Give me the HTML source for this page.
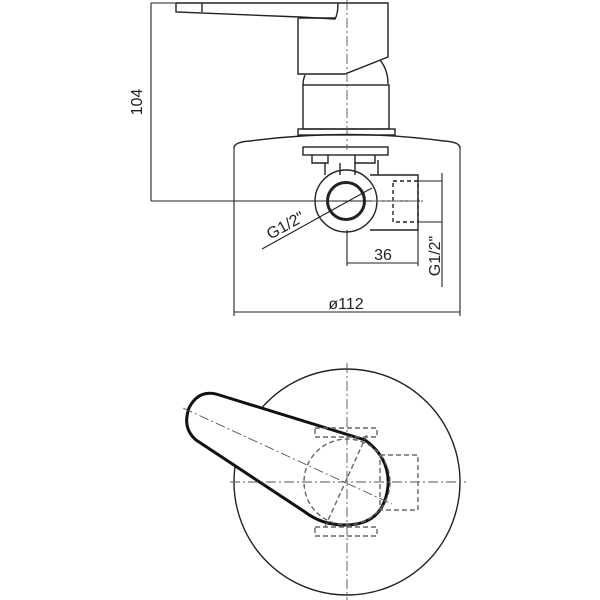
<!DOCTYPE html>
<html><head><style>html,body{margin:0;padding:0;background:#fff}svg{display:block}</style></head>
<body>
<svg width="600" height="600" viewBox="0 0 600 600" xmlns="http://www.w3.org/2000/svg" font-family="Liberation Sans, sans-serif">
<g fill="none" stroke="#222" stroke-width="1.4">
<path d="M176,3 H388 V57 L345,74 H298 V18"/>
<path d="M176,3 V12 L300,17 L335,19 Q338,14 338,3"/>
<path d="M202,3 V12"/>
<path d="M298,18 H336"/>
<path d="M380,60 Q388,70 388,84"/>
<path d="M305,75 Q303,80 303,85"/>
<rect x="303" y="85" width="86" height="44"/>
<rect x="298" y="129" width="97" height="6"/>
<path d="M234,148 Q234,142 250,141 Q347,128 444,141 Q460,142 460,148"/>
<rect x="303" y="147" width="85" height="8"/>
<path d="M312,155 V163 H328 V155 M355,155 V163 H375 V155"/>
<path d="M325,163 V175 M340,163 V175 M355,163 V175 M378,160 V175"/>
<circle cx="346" cy="201" r="31"/>
<circle cx="346" cy="201" r="18.5" stroke-width="3"/>
<path d="M370,175 H418 V230 H370"/>
<rect x="393" y="181" width="25" height="41" stroke-dasharray="4,3"/>
<path d="M151,3 H176 M151,3 V201 M151,201 H420" stroke-width="1.1"/>
<path d="M234,148 V316 M460,148 V316 M234,312 H460" stroke-width="1.1"/>
<path d="M347,230 V266 M347,263 H418 M418,230 V266" stroke-width="1.1"/>
<path d="M442,173 V287 M418,181 H442 M418,222 H442" stroke-width="1.1"/>
<path d="M372,188 L262,249" stroke-width="1.1"/>
<path d="M347,0 V150" stroke="#555" stroke-width="0.9" stroke-dasharray="10,3,2,3"/>
<path d="M372,201 H425" stroke="#555" stroke-width="0.9" stroke-dasharray="10,3,2,3"/>
<circle cx="347" cy="482" r="113" stroke-width="1.4"/>
<path d="M216,394 L365,440 Q390,458 388,486 Q384,525 345,525 Q322,525 305,512 L196,440 Q182,428 189,408 Q198,390 216,394 Z" fill="#fff" stroke="#111" stroke-width="3"/>
<path d="M230,482 H466 M347,363 V600 M183,408 L392,504" stroke="#555" stroke-width="0.9" stroke-dasharray="10,3,2,3"/>
<circle cx="347" cy="482" r="43" stroke="#666" stroke-dasharray="5,3"/>
<path d="M325,527 L368,432" stroke="#666" stroke-dasharray="5,3"/>
<rect x="315" y="428" width="62" height="9" stroke="#666" stroke-dasharray="5,3"/>
<rect x="315" y="527" width="62" height="9" stroke="#666" stroke-dasharray="5,3"/>
<rect x="380" y="455" width="38" height="55" stroke="#666" stroke-dasharray="5,3"/>
</g>
<g fill="#222" font-size="16">
<text x="138" y="102" transform="rotate(-90 138 102)" text-anchor="middle" dominant-baseline="middle">104</text>
<text x="346" y="309" text-anchor="middle">ø112</text>
<text x="383" y="260" text-anchor="middle">36</text>
<text x="436" y="256" transform="rotate(-90 436 256)" text-anchor="middle" dominant-baseline="middle">G1/2"</text>
<text x="288" y="230" transform="rotate(-29 288 230)" text-anchor="middle">G1/2"</text>
</g>
</svg>
</body></html>
